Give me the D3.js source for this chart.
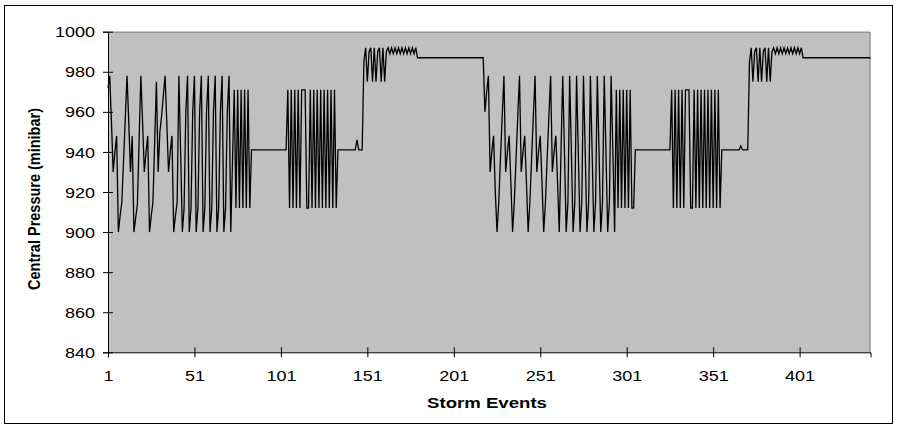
<!DOCTYPE html>
<html>
<head>
<meta charset="utf-8">
<script src="https://cdn.jsdelivr.net/npm/d3@7"></script>
<style>
  body { margin: 0; background: #fff; }
  text { font-family: Arial, "Liberation Sans", sans-serif; }
</style>
</head>
<body>
<div id="chart"></div>
<script>
// central pressure per storm event, phase by phase
var burstA1 = [972, 978, 955, 930, 940, 948, 900, 908, 915, 936, 957, 978, 955, 930, 948, 900, 907, 914, 946, 978,
  955, 930, 940, 948, 900, 908, 915, 945, 975, 930, 950, 958, 968, 978, 955, 930, 940, 948, 900, 908,
  915, 978, 940, 900, 912, 960, 978, 900, 912, 960, 978, 900, 912, 960, 978, 900, 912, 960, 978, 900,
  912, 960, 978, 900, 912, 960, 978, 900, 912, 960, 978, 900];
var fastA = [935, 971, 912, 971, 912, 971, 912, 971, 912, 971, 912];
var calmA1 = [941, 941, 941, 941, 941, 941, 941, 941, 941, 941, 941, 941, 941, 941, 941, 941, 941, 941, 941, 941, 941];
var fastB = [971, 912, 971, 912, 971, 912, 971, 912, 971, 971, 971, 912, 912, 971, 912, 971, 912, 971, 912, 971,
  912, 971, 912, 971, 912, 971, 912, 971];
var calmA2 = [912, 941, 941, 941, 941, 941, 941, 941, 941, 941, 941, 941, 946, 941, 941, 941];
var highA = [985, 992, 975, 990, 992, 975, 992, 975, 990, 992, 975, 992, 975, 990,
  992, 989, 992, 989, 992, 989, 992, 989, 992, 989, 992, 989, 992, 989, 992, 989, 992];
var flatA = [987, 987, 987, 987, 987, 987, 987, 987, 987, 987, 987, 987, 987, 987, 987, 987, 987, 987, 987, 987,
  987, 987, 987, 987, 987, 987, 987, 987, 987, 987, 987, 987, 987, 987, 987, 987, 987, 987, 987];
var burstB1 = [960, 970, 978, 930, 940, 948, 920, 900, 915, 937, 958, 978, 930, 940, 948, 925, 900, 915, 937, 958,
  978, 930, 940, 948, 925, 900, 915, 937, 958, 978, 930, 940, 948, 925, 900, 915, 937, 958, 978, 930,
  940, 948, 925, 900, 940, 978, 940, 900, 915, 978, 940, 900, 915, 978, 940, 900, 915, 978, 940, 900,
  915, 978, 940, 900, 915, 978, 940, 900, 915, 978, 940, 900, 915, 978, 940, 900];
var fastC = [971, 912, 971, 912, 971, 912, 971, 912, 971, 912, 912];
var calmB1 = [941, 941, 941, 941, 941, 941, 941, 941, 941, 941, 941, 941, 941, 941, 941, 941, 941, 941, 941, 941, 941];
var fastD = [971, 912, 971, 912, 971, 912, 971, 912, 971, 971, 971, 912, 912, 971, 912, 971, 912, 971, 912, 971,
  912, 971, 912, 971, 912, 971, 912, 971];
var calmB2 = [912, 941, 941, 941, 941, 941, 941, 941, 941, 941, 941, 941, 943, 941, 941, 941, 941];
var highB = [985, 992, 975, 990, 992, 975, 992, 975, 990, 992, 975, 992, 975, 990,
  992, 989, 992, 989, 992, 989, 992, 989, 992, 989, 992, 989, 992, 989, 992, 989, 992];
var flatB = [987, 987, 987, 987, 987, 987, 987, 987, 987, 987, 987, 987, 987, 987, 987, 987, 987, 987, 987, 987,
  987, 987, 987, 987, 987, 987, 987, 987, 987, 987, 987, 987, 987, 987, 987, 987, 987, 987, 987, 987];

var xTicks = [1, 51, 101, 151, 201, 251, 301, 351, 401];
var yTicks = [840, 860, 880, 900, 920, 940, 960, 980, 1000];

var pressure = [].concat(burstA1, fastA, calmA1, fastB, calmA2, highA, flatA,
  burstB1, fastC, calmB1, fastD, calmB2, highB, flatB);

const width = 897, height = 428;
const margin = { top: 31.7, right: 26.5, bottom: 75.7, left: 108 };
const pw = width - margin.left - margin.right,
  ph = height - margin.top - margin.bottom;
const sx = 1.2; // the original picture is stretched sideways

const svg = d3.select("#chart").append("svg")
  .attr("width", width)
  .attr("height", height);

// chart area frame
svg.append("rect")
  .attr("x", 4.5).attr("y", 5.5)
  .attr("width", 888).attr("height", 418)
  .attr("fill", "#fff")
  .attr("stroke", "#000");

const g = svg.append("g")
  .attr("transform", `translate(${margin.left}, ${margin.top})`);

g.append("rect")
  .attr("width", pw).attr("height", ph)
  .attr("fill", "#c0c0c0");
// grey plot frame (top + right)
g.append("path")
  .attr("d", `M0,0.5H${pw - 0.5}V${ph}`)
  .attr("fill", "none")
  .attr("stroke", "#808080");

const x = d3.scaleLinear().domain([1, pressure.length]).range([0, pw]);
const y = d3.scaleLinear().domain([840, 1000]).range([ph, 0]);

// y-Axis
const yAx = g.append("g")
  .call(d3.axisLeft(y).tickValues(yTicks).tickFormat(d3.format("d"))
    .tickSizeOuter(0).tickSize(5).tickPadding(0));
yAx.select(".domain").attr("stroke", "#000");
yAx.selectAll(".tick line").attr("x1", 5).attr("x2", -5);
yAx.selectAll(".tick text")
  .attr("x", -13 / sx)
  .attr("dy", "0.34em")
  .attr("transform", `scale(${sx},1)`)
  .style("font-size", "15px")
  .attr("fill", "#000");

// x-Axis
const xAx = g.append("g")
  .attr("transform", `translate(0, ${ph})`)
  .call(d3.axisBottom(x).tickValues(xTicks).tickFormat(d3.format("d"))
    .tickSizeOuter(0).tickSize(5));
xAx.select(".domain").attr("stroke", "#000");
xAx.selectAll(".tick line").attr("y1", -5).attr("y2", 5);
xAx.selectAll(".tick text")
  .attr("y", 28.4)
  .attr("dy", 0)
  .attr("transform", `scale(${sx},1)`)
  .style("font-size", "15px")
  .attr("fill", "#000");

// line chart
const lineValue = d3.line()
  .x((d, i) => x(i + 1))
  .y(d => y(d));

g.append("path")
  .datum(pressure)
  .attr("fill", "none")
  .attr("stroke", "#000")
  .attr("stroke-width", 1.3)
  .attr("stroke-linejoin", "miter")
  .attr("d", lineValue);

// axis label
svg.append("text")
  .attr("transform", `translate(487, 408.3) scale(${sx},1)`)
  .attr("text-anchor", "middle")
  .style("font-size", "15.5px")
  .style("font-weight", "bold")
  .text("Storm Events");

svg.append("text")
  .attr("transform", `translate(40, 199) scale(${sx},1) rotate(-90)`)
  .attr("text-anchor", "middle")
  .style("font-size", "14.5px")
  .style("font-weight", "bold")
  .text("Central Pressure (minibar)");
</script>
</body>
</html>
